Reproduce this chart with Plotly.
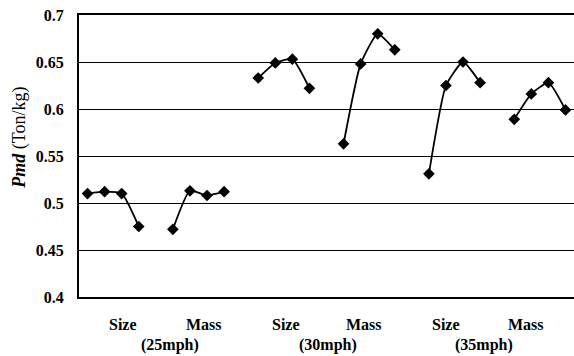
import plotly.graph_objects as go

# Pmd values (Ton/kg), four points per group
size_25 = [0.510, 0.512, 0.510, 0.475]
mass_25 = [0.472, 0.513, 0.508, 0.512]
size_30 = [0.633, 0.649, 0.653, 0.622]
mass_30 = [0.563, 0.648, 0.680, 0.663]
size_35 = [0.531, 0.625, 0.650, 0.628]
mass_35 = [0.589, 0.616, 0.628, 0.599]
groups = [size_25, mass_25, size_30, mass_30, size_35, mass_35]

# category labels and their positions on the category axis
cat_labels = ["Size", "Mass", "Size", "Mass", "Size", "Mass"]
cat_pos = [2.05, 6.8, 11.6, 16.2, 21.0, 25.66]
speed_labels = ["(25mph)", "(30mph)", "(35mph)"]
speed_pos = [4.86, 14.06, 23.2]

y_ticks = [0.4, 0.45, 0.5, 0.55, 0.6, 0.65, 0.7]
y_ticktext = ["0.4", "0.45", "0.5", "0.55", "0.6", "0.65", "0.7"]

SERIF = "Liberation Serif"

fig = go.Figure()
for g, vals in enumerate(groups):
    xs = [g * 5 + k for k in range(len(vals))]
    fig.add_trace(go.Scatter(
        x=xs, y=vals, mode="lines+markers",
        line=dict(color="black", width=1.8, shape="spline", smoothing=0.5),
        marker=dict(symbol="diamond", size=9, color="black"),
        showlegend=False, hoverinfo="skip",
    ))

annotations = []
for lab, pos in zip(cat_labels, cat_pos):
    annotations.append(dict(x=pos, y=-0.096, xref="x", yref="paper", text=f"<b>{lab}</b>",
                            showarrow=False, font=dict(family=SERIF, size=16, color="black"),
                            xanchor="center", yanchor="middle"))
for lab, pos in zip(speed_labels, speed_pos):
    annotations.append(dict(x=pos, y=-0.17, xref="x", yref="paper", text=f"<b>{lab}</b>",
                            showarrow=False, font=dict(family=SERIF, size=16, color="black"),
                            xanchor="center", yanchor="middle"))
annotations.append(dict(x=-0.119, y=0.565, xref="paper", yref="paper",
                        text="<b><i>Pmd</i></b> (Ton/kg)", textangle=-90,
                        showarrow=False, font=dict(family=SERIF, size=18, color="black"),
                        xanchor="center", yanchor="middle"))

fig.update_layout(
    width=574, height=356,
    margin=dict(l=79, r=0, t=15, b=59),
    paper_bgcolor="white", plot_bgcolor="white",
    annotations=annotations,
    xaxis=dict(range=[-0.5, 28.5], showgrid=False, zeroline=False, showticklabels=False,
               showline=True, linecolor="black", linewidth=2, mirror=True, ticks=""),
    yaxis=dict(range=[0.4, 0.7], tickvals=y_ticks,
               ticktext=[f"<b>{t}</b>" for t in y_ticktext],
               showgrid=True, gridcolor="black", gridwidth=1, zeroline=False,
               showline=True, linecolor="black", linewidth=2,
               ticks="outside", ticklen=10, tickcolor="rgba(0,0,0,0)",
               tickfont=dict(family=SERIF, size=16, color="black")),
)

fig.write_html("out.html")
